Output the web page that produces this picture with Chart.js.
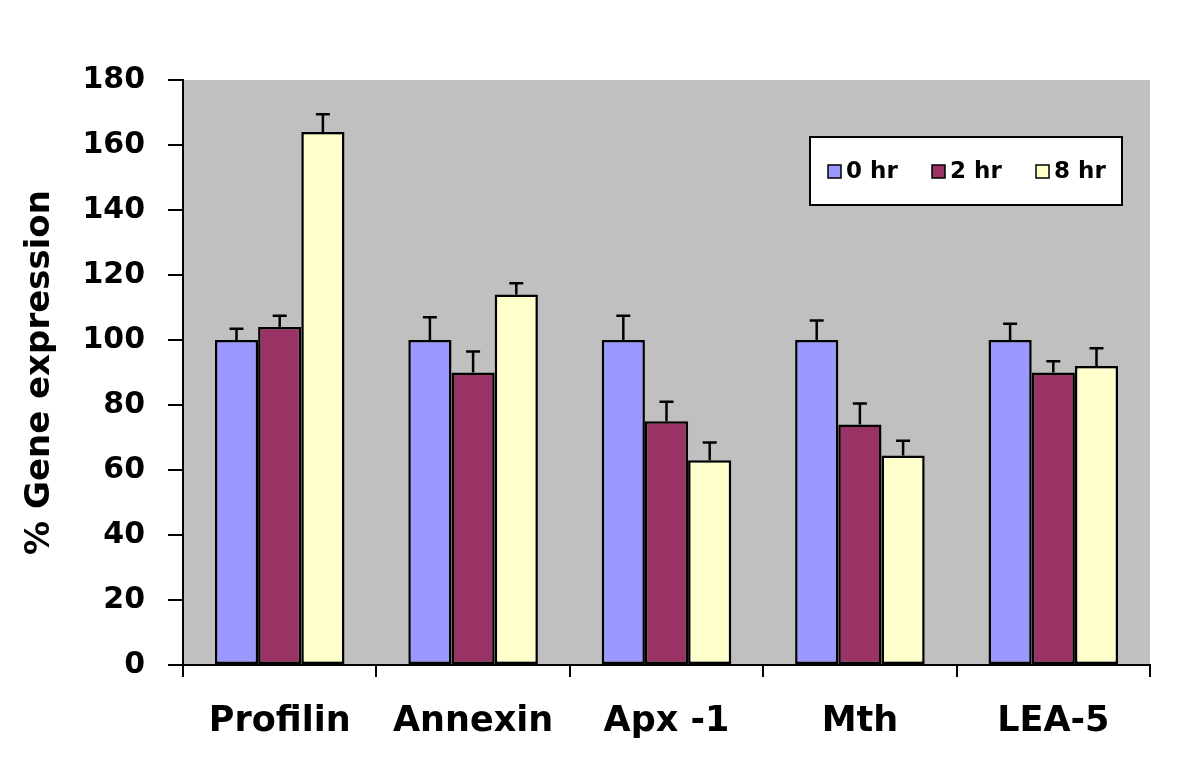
<!DOCTYPE html>
<html>
<head>
<meta charset="utf-8">
<script src="https://cdn.jsdelivr.net/npm/chart.js@4/dist/chart.umd.min.js"></script>
<style>
  html, body { margin: 0; padding: 0; background: #fff; }
  #wrap { width: 1200px; height: 765px; }
</style>
</head>
<body>
<div id="wrap"><canvas id="grafica"></canvas></div>
<script>
// datos
var genes = ['Profilin', 'Annexin', 'Apx -1', 'Mth', 'LEA-5'];
var horas = ['0 hr', '2 hr', '8 hr'];
var expr0 = [100, 100, 100, 100, 100];
var expr2 = [104, 90, 75, 74, 90];
var expr8 = [164, 114, 63, 64.5, 92];
var err0 = [3.5, 7, 7.5, 6, 5];
var err2 = [3.5, 6.5, 6, 6.5, 3.5];
var err8 = [5.5, 3.5, 5.5, 4.5, 5.5];
var yTicks = [0, 20, 40, 60, 80, 100, 120, 140, 160, 180];

var colores = ['#9999ff', '#993366', '#ffffcc'];

// fondo gris del area de trazado
var fondo = {
    id: 'fondo',
    beforeDraw: function (chart) {
        var a = chart.chartArea, ctx = chart.ctx;
        ctx.save();
        ctx.fillStyle = '#c0c0c0';
        ctx.fillRect(a.left, a.top, a.right - a.left, a.bottom - a.top);
        ctx.restore();
    },
};

// barras de error (solo hacia arriba)
var errores = {
    id: 'errores',
    afterDatasetsDraw: function (chart) {
        var ctx = chart.ctx, y = chart.scales.y;
        ctx.save();
        ctx.strokeStyle = '#000';
        ctx.lineWidth = 2.5;
        chart.data.datasets.forEach(function (ds, i) {
            var meta = chart.getDatasetMeta(i);
            meta.data.forEach(function (bar, j) {
                var top = y.getPixelForValue(ds.data[j] + ds.err[j]);
                ctx.beginPath();
                ctx.moveTo(bar.x, bar.y);
                ctx.lineTo(bar.x, top);
                ctx.moveTo(bar.x - 7, top);
                ctx.lineTo(bar.x + 7, top);
                ctx.stroke();
            });
        });
        ctx.restore();
    },
};

// leyenda dentro del area
var leyenda = {
    id: 'leyenda',
    afterDraw: function (chart) {
        var ctx = chart.ctx, a = chart.chartArea;
        var x0 = a.right - 340, y0 = a.top + 57, w = 312, h = 68;
        ctx.save();
        ctx.fillStyle = '#fff';
        ctx.fillRect(x0, y0, w, h);
        ctx.strokeStyle = '#000';
        ctx.lineWidth = 2;
        ctx.strokeRect(x0, y0, w, h);
        ctx.font = 'bold 23px "DejaVu Sans"';
        ctx.textBaseline = 'middle';
        chart.data.datasets.forEach(function (ds, i) {
            var sx = x0 + 18 + i * 104, sy = y0 + 28;
            ctx.fillStyle = ds.backgroundColor;
            ctx.fillRect(sx, sy, 13, 13);
            ctx.lineWidth = 1.5;
            ctx.strokeStyle = '#000';
            ctx.strokeRect(sx, sy, 13, 13);
            ctx.fillStyle = '#000';
            ctx.fillText(ds.label, sx + 18, sy + 7);
        });
        ctx.restore();
    },
};

var series = [expr0, expr2, expr8];
var errs = [err0, err2, err8];

var data = {
    labels: genes,
    datasets: horas.map(function (h, i) {
        return {
            label: h,
            data: series[i],
            err: errs[i],
            backgroundColor: colores[i],
            borderColor: '#000',
            borderWidth: 2.5,
            borderSkipped: false,
            categoryPercentage: 0.67,
            barPercentage: 1.0,
        };
    }),
};

var config = {
    type: 'bar',
    data: data,
    options: {
        responsive: true,
        maintainAspectRatio: false,
        animation: false,
        layout: {
            padding: { top: 80, right: 50, left: 0, bottom: 0 },
        },
        plugins: {
            legend: { display: false },
            tooltip: { enabled: false },
        },
        scales: {
            x: {
                grid: {
                    offset: true,
                    drawOnChartArea: false,
                    color: '#000',
                    lineWidth: 2,
                    tickLength: 12,
                },
                border: { color: '#000', width: 2 },
                ticks: {
                    color: '#000',
                    padding: 24,
                    font: { family: 'DejaVu Sans', size: 35, weight: 'bold' },
                },
                afterFit: function (scale) {
                    scale.height = 100;
                },
            },
            y: {
                min: 0,
                max: 180,
                afterBuildTicks: function (scale) {
                    scale.ticks = yTicks.map(function (v) { return { value: v }; });
                },
                grid: {
                    drawOnChartArea: false,
                    color: '#000',
                    lineWidth: 2,
                    tickLength: 15,
                },
                border: { color: '#000', width: 2 },
                ticks: {
                    color: '#000',
                    padding: 23,
                    font: { family: 'DejaVu Sans', size: 30, weight: 'bold' },
                },
                title: {
                    display: true,
                    text: '% Gene expression',
                    color: '#000',
                    padding: { top: 23, bottom: 0 },
                    font: { family: 'DejaVu Sans', size: 34, weight: 'bold', lineHeight: 1 },
                },
                afterFit: function (scale) {
                    scale.width = 183;
                },
            },
        },
    },
    plugins: [fondo, errores, leyenda],
};

var myChart = new Chart(document.getElementById('grafica'), config);
</script>
</body>
</html>
